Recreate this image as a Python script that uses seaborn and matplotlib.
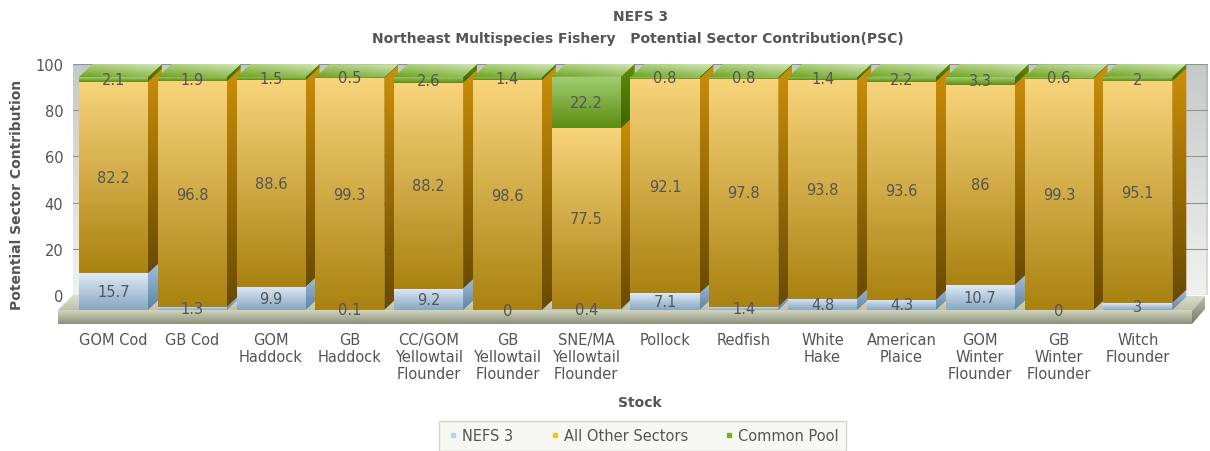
import numpy as np
import matplotlib
matplotlib.use("Agg")
import matplotlib.pyplot as plt
import seaborn as sns
from matplotlib.colors import LinearSegmentedColormap
from matplotlib.lines import Line2D
from matplotlib.patches import Polygon

stocks = ["GOM Cod", "GB Cod", "GOM\nHaddock", "GB\nHaddock", "CC/GOM\nYellowtail\nFlounder",
          "GB\nYellowtail\nFlounder", "SNE/MA\nYellowtail\nFlounder", "Pollock", "Redfish",
          "White\nHake", "American\nPlaice", "GOM\nWinter\nFlounder", "GB\nWinter\nFlounder",
          "Witch\nFlounder"]
nefs3 = [15.7, 1.3, 9.9, 0.1, 9.2, 0, 0.4, 7.1, 1.4, 4.8, 4.3, 10.7, 0, 3]
other_sectors = [82.2, 96.8, 88.6, 99.3, 88.2, 98.6, 77.5, 92.1, 97.8, 93.8, 93.6, 86, 99.3, 95.1]
common_pool = [2.1, 1.9, 1.5, 0.5, 2.6, 1.4, 22.2, 0.8, 0.8, 1.4, 2.2, 3.3, 0.6, 2]
y_ticks = [0, 20, 40, 60, 80, 100]

W, H = 1210, 452
TEXT = "#555555"

# front, side and top gradients for each series, top colour first
styles = {
    "NEFS 3": (("#dfeaf6", "#86a6c2"), ("#a9c2de", "#5c83a4"), ("#e4edf6", "#a8c2da")),
    "All Other Sectors": (("#f8d47c", "#a98210"), ("#cc8f08", "#684a00"), ("#f8d47c", "#e8c060")),
    "Common Pool": (("#a2ce72", "#5c8c12"), ("#5e8e08", "#3e6400"), ("#d4e6bc", "#6ca41c")),
}


def axes_px(left, top, right, bottom):
    return [left / W, 1 - bottom / H, (right - left) / W, (bottom - top) / H]


def gradient(ax, corners, top_color, bottom_color, zorder, diagonal=False):
    corners = np.array(corners)
    poly = Polygon(corners, closed=True, facecolor="none", edgecolor="none", zorder=zorder)
    ax.add_patch(poly)
    cmap = LinearSegmentedColormap.from_list("g", [top_color, bottom_color])
    grad = np.linspace(0, 1, 256).reshape(-1, 1)
    if diagonal:
        grad = 0.6 * grad + 0.4 * np.linspace(1, 0, 256).reshape(1, -1)
    extent = [corners[:, 0].min(), corners[:, 0].max(), corners[:, 1].min(), corners[:, 1].max()]
    top_at_upper = ax.get_ylim()[1] > ax.get_ylim()[0]
    im = ax.imshow(grad, cmap=cmap, extent=extent, aspect="auto", zorder=zorder,
                   origin="upper" if top_at_upper else "lower", interpolation="bilinear")
    im.set_clip_path(poly)
    im.set_clip_box(ax.figure.bbox)
    return im


sns.set_theme(style="white")
plt.rcParams["font.family"] = ["DejaVu Sans"]

fig = plt.figure(figsize=(W / 100, H / 100), dpi=100, facecolor="white")

# back wall, holds the value axis
wall = fig.add_axes(axes_px(73, 65, 1208, 296), zorder=1)
wall.set_xlim(0, 1)
wall.set_ylim(0, 100)
wall.autoscale(False)
gradient(wall, [(0, 0), (1, 0), (1, 100), (0, 100)], "#c4c9ca", "#f0f2ee", 0)
gradient(wall, [(0.998, 0), (1, 0), (1, 100), (0.998, 100)], "#b4b8b8", "#dcdeda", 0.5)
wall.set_yticks(y_ticks)
wall.set_xticks([])
wall.grid(axis="y", color="#8f948c", linewidth=0.8)
wall.set_axisbelow(True)
wall.tick_params(axis="y", labelsize=10.5, labelcolor=TEXT, length=0, pad=7)
sns.despine(ax=wall, left=True, bottom=True, top=True, right=True)

# floor slab, in pixel coordinates
floor = fig.add_axes([0, 0, 1, 1], zorder=2)
floor.set_xlim(0, W)
floor.set_ylim(H, 0)
floor.autoscale(False)
floor.axis("off")
gradient(floor, [(58, 311), (73, 296), (1205, 297), (1192, 312)], "#dcdfd0", "#bcc0a8", 1)
gradient(floor, [(58, 311), (1192, 311), (1192, 325), (58, 325)], "#d2d5be", "#8b907c", 2)
gradient(floor, [(1192, 312), (1205, 297), (1205, 310), (1192, 325)], "#bcc0aa", "#747a64", 2)

# bars live on the front plane of the chart
pitch = 78.8
px_per_unit = 2.33
ax = fig.add_axes(axes_px(74, 78, 74 + 14 * pitch, 311), zorder=3)
ax.patch.set_alpha(0)
depth_x = 14 / pitch
depth_y = 13 / px_per_unit

bottoms = np.zeros(len(stocks))
series = [("NEFS 3", nefs3), ("All Other Sectors", other_sectors), ("Common Pool", common_pool)]
for name, values in series:
    sns.barplot(x=stocks, y=values, bottom=bottoms, width=69 / pitch, color="white",
                errorbar=None, ax=ax, linewidth=0, saturation=1)
    bottoms = bottoms + np.array(values)

ax.set_xlim(-0.5, 13.5)
ax.set_ylim(0, 100)
ax.autoscale(False)

for i in range(len(stocks)):
    base = 10 + i * 10
    for s, (name, values) in enumerate(series):
        front, side, top = styles[name]
        bar = ax.containers[s][i]
        x0, x1 = bar.get_x(), bar.get_x() + bar.get_width()
        y0, y1 = bar.get_y(), bar.get_y() + bar.get_height()
        bar.set_visible(False)
        if y1 - y0 <= 0:
            continue
        gradient(ax, [(x1, y0), (x1 + depth_x, y0 + depth_y), (x1 + depth_x, y1 + depth_y), (x1, y1)],
                 side[0], side[1], base + s)
        if name == "Common Pool":
            gradient(ax, [(x0, y1), (x1, y1), (x1 + depth_x, y1 + depth_y), (x0 + depth_x, y1 + depth_y)],
                     top[0], top[1], base + 3, diagonal=True)
        gradient(ax, [(x0, y0), (x1, y0), (x1, y1), (x0, y1)], front[0], front[1], base + 4 + s)

for s in range(3):
    labels = ax.bar_label(ax.containers[s], fmt="%g", label_type="center", fontsize=10.5, color=TEXT, zorder=500)
    for t in labels:
        t.set_visible(True)

ax.set_yticks([])
ax.tick_params(axis="x", labelsize=10.5, labelcolor=TEXT, length=0, pad=16)
for lab in ax.get_xticklabels():
    lab.set_linespacing(1.15)
sns.despine(ax=ax, left=True, bottom=True)

fig.text(641 / W, 1 - 17 / H, "NEFS 3", ha="center", va="center", fontsize=10, fontweight="bold", color=TEXT)
fig.text(638 / W, 1 - 39 / H, "Northeast Multispecies Fishery   Potential Sector Contribution(PSC)",
         ha="center", va="center", fontsize=10, fontweight="bold", color=TEXT)
fig.text(17 / W, 1 - 195 / H, "Potential Sector Contribution", rotation=90, ha="center", va="center",
         fontsize=10, fontweight="bold", color=TEXT)
fig.text(640 / W, 1 - 403 / H, "Stock", ha="center", va="center", fontsize=10, fontweight="bold", color=TEXT)

handles = [Line2D([], [], linestyle="none", marker="s", markersize=3.5, color=c)
           for c in ("#bccfe6", "#f2c230", "#82a828")]
leg = fig.legend(handles, [s[0] for s in series], ncol=3, loc="center",
                 bbox_to_anchor=(642.5 / W, 1 - 437 / H), fontsize=10.5, frameon=True, fancybox=False,
                 facecolor="#f6f6f0", edgecolor="#c8ccc0", labelcolor=TEXT, handletextpad=0.1,
                 columnspacing=2.35, borderpad=0.5, handlelength=1)
leg.get_frame().set_linewidth(1)

fig.savefig("out.png", dpi=100)
